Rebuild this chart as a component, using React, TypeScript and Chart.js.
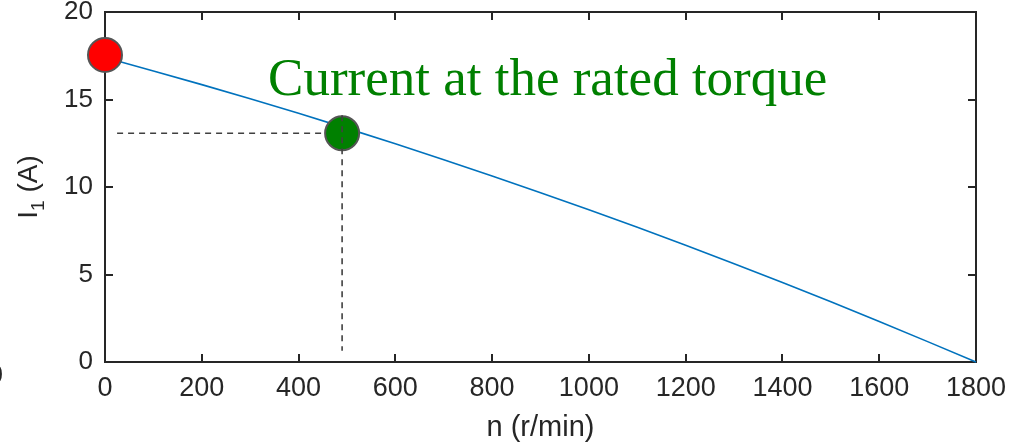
import React, { useEffect, useRef } from "react";
import { Chart, registerables } from "chart.js";

Chart.register(...registerables);

// Curve I1 vs n
const speedN = [0, 200, 400, 600, 800, 1000, 1200, 1400, 1600, 1800];
const currentI = [17.4, 15.85, 14.21, 12.47, 10.63, 8.7, 6.67, 4.54, 2.32, 0];

// Markers
const startPoint = { x: 0, y: 17.55 };
const ratedPoint = { x: 490, y: 13.07 };

// Dashed guide lines
const hGuideX = [25, 490];
const hGuideY = [13.07, 13.07];
const vGuideX = [490, 490];
const vGuideY = [14.1, 0.65];

// Axis ticks
const xTickValues = [0, 200, 400, 600, 800, 1000, 1200, 1400, 1600, 1800];
const yTickValues = [0, 5, 10, 15, 20];

// Texts
const annotationText = "Current at the rated torque";
const annotationAt = { x: 337, y: 15.26 };
const yTitleMain = "I";
const yTitleSub = "1";
const yTitleRest = " (A)";

const AXIS_COLOR = "#262626";
const SANS = "'Liberation Sans', Arial, sans-serif";

const framePlugin = {
  id: "frameTicks",
  beforeDatasetsDraw(chart: any) {
    const { ctx, chartArea: a, scales } = chart;
    ctx.save();
    ctx.strokeStyle = AXIS_COLOR;
    ctx.lineWidth = 2;
    ctx.strokeRect(a.left, a.top, a.right - a.left, a.bottom - a.top);
    const tl = 8;
    ctx.beginPath();
    for (const v of xTickValues) {
      const px = Math.round(scales.x.getPixelForValue(v));
      ctx.moveTo(px, a.bottom);
      ctx.lineTo(px, a.bottom - tl);
      ctx.moveTo(px, a.top);
      ctx.lineTo(px, a.top + tl);
    }
    for (const v of yTickValues) {
      const py = Math.round(scales.y.getPixelForValue(v));
      ctx.moveTo(a.left, py);
      ctx.lineTo(a.left + tl, py);
      ctx.moveTo(a.right, py);
      ctx.lineTo(a.right - tl, py);
    }
    ctx.stroke();
    ctx.restore();
  },
  afterDraw(chart: any) {
    const { ctx, scales, chartArea: a } = chart;
    ctx.save();
    ctx.fillStyle = "#008000";
    ctx.font = "53px 'Liberation Serif', 'Times New Roman', serif";
    ctx.textAlign = "left";
    ctx.textBaseline = "alphabetic";
    ctx.fillText(
      annotationText,
      scales.x.getPixelForValue(annotationAt.x),
      scales.y.getPixelForValue(annotationAt.y)
    );

    // y-axis title with subscript
    ctx.fillStyle = AXIS_COLOR;
    const mainFont = "28px " + SANS;
    const subFont = "19px " + SANS;
    ctx.font = mainFont;
    const wMain = ctx.measureText(yTitleMain).width;
    const wRest = ctx.measureText(yTitleRest).width;
    ctx.font = subFont;
    const wSub = ctx.measureText(yTitleSub).width;
    const total = wMain + wSub + wRest;
    ctx.translate(37, (a.top + a.bottom) / 2);
    ctx.rotate(-Math.PI / 2);
    let cx = -total / 2;
    ctx.textAlign = "left";
    ctx.font = mainFont;
    ctx.fillText(yTitleMain, cx, 0);
    cx += wMain;
    ctx.font = subFont;
    ctx.fillText(yTitleSub, cx, 7);
    cx += wSub;
    ctx.font = mainFont;
    ctx.fillText(yTitleRest, cx, 0);
    ctx.restore();

    // clipped label from neighbouring panel
    ctx.save();
    ctx.fillStyle = AXIS_COLOR;
    ctx.font = "25px " + SANS;
    ctx.textAlign = "center";
    ctx.textBaseline = "middle";
    ctx.fillText("0", -4, 376);
    ctx.restore();
  },
};

export default function App() {
  const ref = useRef<HTMLCanvasElement | null>(null);

  useEffect(() => {
    if (!ref.current) return;
    const chart = new Chart(ref.current, {
      type: "line",
      data: {
        datasets: [
          {
            label: "vguide",
            data: vGuideX.map((x, i) => ({ x, y: vGuideY[i] })),
            borderColor: "#404040",
            borderWidth: 1.6,
            borderDash: [6, 5],
            pointRadius: 0,
            order: 0,
          },
          {
            label: "rated",
            data: [ratedPoint],
            showLine: false,
            pointRadius: 17,
            pointBackgroundColor: "#008000",
            pointBorderColor: "#555555",
            pointBorderWidth: 2,
            clip: false,
            order: 1,
          },
          {
            label: "start",
            data: [startPoint],
            showLine: false,
            pointRadius: 17,
            pointBackgroundColor: "#ff0000",
            pointBorderColor: "#555555",
            pointBorderWidth: 2,
            clip: false,
            order: 1,
          },
          {
            label: "hguide",
            data: hGuideX.map((x, i) => ({ x, y: hGuideY[i] })),
            borderColor: "#404040",
            borderWidth: 1.6,
            borderDash: [6, 5],
            pointRadius: 0,
            order: 2,
          },
          {
            label: "I1",
            data: speedN.map((x, i) => ({ x, y: currentI[i] })),
            borderColor: "#0072BD",
            borderWidth: 1.6,
            pointRadius: 0,
            tension: 0.3,
            clip: false,
            order: 3,
          },
        ],
      },
      options: {
        animation: false,
        responsive: true,
        maintainAspectRatio: false,
        layout: { autoPadding: false, padding: { left: 0, right: 52, top: 12, bottom: 0 } },
        plugins: { legend: { display: false }, tooltip: { enabled: false } },
        scales: {
          x: {
            type: "linear",
            min: 0,
            max: 1800,
            afterFit: (s: any) => {
              s.height = 80;
              s.paddingLeft = 0;
              s.paddingRight = 0;
            },
            afterBuildTicks: (s: any) => {
              s.ticks = xTickValues.map((v) => ({ value: v }));
            },
            grid: { display: false, drawTicks: false },
            border: { display: false },
            ticks: {
              color: AXIS_COLOR,
              font: { family: SANS, size: 27 },
              padding: 10,
              maxRotation: 0,
              autoSkip: false,
              callback: (v: any) => String(v),
            },
            title: {
              display: true,
              text: "n (r/min)",
              color: AXIS_COLOR,
              font: { family: SANS, size: 29, lineHeight: 1.0 },
              padding: { top: 0, bottom: 0 },
            },
          },
          y: {
            type: "linear",
            min: 0,
            max: 20,
            afterFit: (s: any) => {
              s.width = 105;
              s.paddingTop = 0;
              s.paddingBottom = 0;
            },
            afterBuildTicks: (s: any) => {
              s.ticks = yTickValues.map((v) => ({ value: v }));
            },
            grid: { display: false, drawTicks: false },
            border: { display: false },
            ticks: {
              color: AXIS_COLOR,
              font: { family: SANS, size: 26 },
              padding: 12,
              autoSkip: false,
              callback: (v: any) => String(v),
            },
            title: { display: false },
          },
        },
      },
      plugins: [framePlugin],
    } as any);
    return () => chart.destroy();
  }, []);

  return (
    <div style={{ position: "fixed", left: 0, top: 0, width: 1028, height: 442, background: "#fff" }}>
      <canvas ref={ref} />
    </div>
  );
}
